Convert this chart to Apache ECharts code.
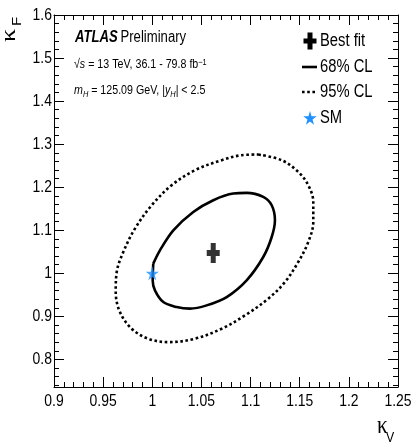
<!DOCTYPE html>
<html>
<head>
<meta charset="utf-8">
<script src="https://cdn.jsdelivr.net/npm/echarts@6/dist/echarts.min.js"></script>
<style>
  html, body { margin: 0; padding: 0; background: #fff; }
  #chart { width: 413px; height: 444px; }
</style>
</head>
<body>
<div id="chart"></div>
<script>
// Likelihood contours in the (kappa_V, kappa_F) plane
const contour68X = [1.001, 1.0004, 1.0027, 1.0112, 1.0248, 1.0384, 1.0553, 1.0757, 1.096, 1.1129,
  1.1215, 1.1248, 1.1215, 1.1129, 1.096, 1.0824, 1.0621, 1.0417, 1.0214, 1.0078, 1.001];
const contour68Y = [1.0225, 0.9837, 0.9605, 0.9333, 0.9217, 0.918, 0.9256, 0.9449, 0.9837, 1.0379,
  1.0844, 1.1233, 1.1581, 1.1775, 1.1868, 1.1853, 1.1698, 1.1426, 1.1, 1.0535, 1.0225];

const contour95X = [1.1079, 1.1316, 1.1485, 1.1587, 1.1638, 1.1638, 1.1587, 1.1485, 1.135, 1.118,
  1.0943, 1.0706, 1.0434, 1.0163, 0.9959, 0.979, 0.9671, 0.9628, 0.9638, 0.9705,
  0.9824, 0.9994, 1.0197, 1.0434, 1.0706, 1.0909, 1.1079];
const contour95Y = [1.276, 1.2628, 1.2356, 1.2047, 1.1658, 1.1193, 1.0728, 1.0263, 0.9798, 0.9411,
  0.9023, 0.8714, 0.8481, 0.8402, 0.8481, 0.8714, 0.91, 0.9565, 1.003, 1.0495,
  1.104, 1.1581, 1.2047, 1.2395, 1.2628, 1.2744, 1.276];

const bestFit = [1.062, 1.047];
const smPoint = [1.0, 1.0];

// Axis ranges and tick positions
const xRange = [0.9, 1.25];
const yRange = [0.736, 1.6];
const xMajorTicks = [0.9, 0.95, 1.0, 1.05, 1.1, 1.15, 1.2, 1.25];
const xTickLabels = ['0.9', '0.95', '1', '1.05', '1.1', '1.15', '1.2', '1.25'];
const yMajorTicks = [0.8, 0.9, 1.0, 1.1, 1.2, 1.3, 1.4, 1.5, 1.6];
const yTickLabels = ['0.8', '0.9', '1', '1.1', '1.2', '1.3', '1.4', '1.5', '1.6'];
const yMinorStep = 0.02;

const legendLabels = ['Best fit', '68% CL', '95% CL', 'SM'];

const SANS = "'Liberation Sans', Arial, sans-serif";
const SERIF = "'Liberation Serif', 'DejaVu Serif', serif";
const NARROW = 0.82;           // horizontal squeeze for the condensed Helvetica look
const SM_BLUE = '#1E90FF';
const CROSS = 'path://M4,0 H9 V7 H13 V13 H9 V20 H4 V13 H0 V7 H4 Z';
const STAR = 'path://M50,0 L61,35 L98,35 L68,57 L79,91 L50,70 L21,91 L32,57 L2,35 L39,35 Z';

const yMinorTicks = [];
for (let v = 0.74; v < 1.6; v += yMinorStep) {
  const r = Math.round(v * 100) / 100;
  if (Math.abs(r * 10 - Math.round(r * 10)) > 1e-6) yMinorTicks.push(r);
}

const zip = (xs, ys) => xs.map((x, i) => [x, ys[i]]);

const axisLineStyle = { show: true, onZero: false, lineStyle: { color: '#000', width: 1 } };

function xAxisDef(position) {
  return {
    type: 'value', position, min: xRange[0], max: xRange[1], interval: 0.05,
    axisLine: axisLineStyle,
    axisTick: { show: true, inside: true, length: 10, lineStyle: { color: '#000' } },
    minorTick: { show: true, splitNumber: 5, length: 5, lineStyle: { color: '#000' } },
    splitLine: { show: false }, minorSplitLine: { show: false },
    axisLabel: { show: false }
  };
}

function yAxisDef(position, values, tickLen, withLine) {
  return {
    type: 'value', position, min: yRange[0], max: yRange[1],
    axisLine: withLine ? axisLineStyle : { show: false },
    axisTick: { show: true, inside: true, length: tickLen, customValues: values,
                lineStyle: { color: '#000' } },
    splitLine: { show: false },
    axisLabel: { show: false }
  };
}

const chart = echarts.init(document.getElementById('chart'), null, { renderer: 'canvas' });

chart.setOption({
  animation: false,
  backgroundColor: '#fff',
  grid: { left: 54, right: 15, top: 15, bottom: 57, outerBoundsMode: 'none', containLabel: false },
  xAxis: [xAxisDef('bottom'), xAxisDef('top')],
  yAxis: [
    yAxisDef('left', yMajorTicks, 10, true),
    yAxisDef('left', yMinorTicks, 5, false),
    yAxisDef('right', yMajorTicks, 10, true),
    yAxisDef('right', yMinorTicks, 5, false)
  ],
  series: [
    {
      name: '95% CL', type: 'line', xAxisIndex: 0, yAxisIndex: 0,
      data: zip(contour95X, contour95Y), smooth: 0.35, symbol: 'none',
      lineStyle: { color: '#000', width: 2.6, type: [2.6, 2.6] }
    },
    {
      name: '68% CL', type: 'line', xAxisIndex: 0, yAxisIndex: 0,
      data: zip(contour68X, contour68Y), smooth: 0.35, symbol: 'none',
      lineStyle: { color: '#000', width: 2.6 }
    },
    {
      name: 'Best fit', type: 'scatter', data: [bestFit], symbol: CROSS,
      symbolSize: [13, 20], itemStyle: { color: '#000' }, z: 5
    },
    {
      name: 'SM', type: 'scatter', data: [smPoint], symbol: STAR,
      symbolSize: [13, 14], itemStyle: { color: SM_BLUE }, z: 6
    }
  ]
});

// Tick labels, placed through the axis scales and drawn condensed
const xAxisY = chart.convertToPixel({ yAxisIndex: 0 }, yRange[0]);
const yAxisX = chart.convertToPixel({ xAxisIndex: 0 }, xRange[0]);

function narrowText(x, y, text, fontSize, align, vAlign, extra) {
  return Object.assign({
    type: 'text', x, y, scaleX: NARROW, z: 10,
    style: { text, fontFamily: SANS, fontSize, fill: '#000', align, verticalAlign: vAlign }
  }, extra || {});
}

const tickLabelEls = [];
xMajorTicks.forEach((v, i) => {
  tickLabelEls.push(narrowText(chart.convertToPixel({ xAxisIndex: 0 }, v), xAxisY + 6,
    xTickLabels[i], 17, 'center', 'top'));
});
yMajorTicks.forEach((v, i) => {
  tickLabelEls.push(narrowText(yAxisX - 2, chart.convertToPixel({ yAxisIndex: 0 }, v),
    yTickLabels[i], 17, 'right', 'middle'));
});

const legendX = 310, legendTextX = 320;
const legendRows = [41, 67, 92, 118];

const richSans = (size, extra) => Object.assign({ fontFamily: SANS, fontSize: size, fill: '#000' }, extra || {});

// Axis titles: kappa with a lowered subscript
function kappaTitle(kx, ky, sx, sy, sub, rotated) {
  const common = rotated ? { rotation: Math.PI / 2, scaleY: NARROW } : { scaleX: NARROW };
  return [
    Object.assign({ type: 'text', x: kx, y: ky, z: 10,
      style: { text: 'κ', fontFamily: SERIF, fontSize: 26, fill: '#000', align: 'left', verticalAlign: 'middle' } }, common),
    Object.assign({ type: 'text', x: sx, y: sy, z: 10,
      style: { text: sub, fontFamily: SANS, fontSize: 15, fill: '#000', align: 'left', verticalAlign: 'middle' } }, common)
  ];
}

const decorEls = [].concat(
  kappaTitle(377, 426, 386, 438, 'V', false),
  kappaTitle(9.5, 42, 18, 26, 'F', true),
  [
  // ATLAS label block
  {
    type: 'text', x: 75, y: 38, scaleX: NARROW, z: 10,
    style: {
      text: '{b|ATLAS} {n|Preliminary}', verticalAlign: 'middle',
      rich: {
        b: richSans(16, { fontWeight: 'bold', fontStyle: 'italic' }),
        n: richSans(16)
      }
    }
  },
  {
    type: 'text', x: 74, y: 66, scaleX: NARROW, z: 10,
    style: {
      text: '{n|√}{i|s}{n| = 13 TeV, 36.1 - 79.8 fb}{p|−1}', verticalAlign: 'middle',
      rich: {
        n: richSans(13, { verticalAlign: 'top', lineHeight: 16 }),
        i: richSans(13, { fontStyle: 'italic', verticalAlign: 'top', lineHeight: 16 }),
        p: richSans(9, { verticalAlign: 'top', lineHeight: 10 })
      }
    }
  },
  {
    type: 'text', x: 74, y: 92, scaleX: NARROW, z: 10,
    style: {
      text: '{i|m}{s|H}{n| = 125.09 GeV, |}{i|y}{s|H}{n|| < 2.5}', verticalAlign: 'middle',
      rich: {
        n: richSans(13, { verticalAlign: 'top', lineHeight: 16 }),
        i: richSans(13, { fontStyle: 'italic', verticalAlign: 'top', lineHeight: 16 }),
        s: richSans(9, { fontStyle: 'italic', verticalAlign: 'top', lineHeight: 10, padding: [6, 0, 0, 0] })
      }
    }
  },
  // legend symbols
  {
    type: 'polygon', z: 10, x: legendX - 6.5, y: legendRows[0] - 8.5,
    shape: { points: [[4, 0], [9, 0], [9, 6], [13, 6], [13, 11], [9, 11], [9, 17], [4, 17],
                      [4, 11], [0, 11], [0, 6], [4, 6]] },
    style: { fill: '#000' }
  },
  {
    type: 'line', z: 10,
    shape: { x1: legendX - 8, y1: legendRows[1], x2: legendX + 7, y2: legendRows[1] },
    style: { stroke: '#000', lineWidth: 2.6 }
  },
  {
    type: 'line', z: 10,
    shape: { x1: legendX - 8, y1: legendRows[2], x2: legendX + 7, y2: legendRows[2] },
    style: { stroke: '#000', lineWidth: 2.6, lineDash: [2.6, 2.6] }
  },
  {
    type: 'polygon', z: 10, x: legendX - 7, y: legendRows[3] - 7, scaleX: 0.14, scaleY: 0.15,
    shape: { points: [[50, 0], [61, 35], [98, 35], [68, 57], [79, 91], [50, 70], [21, 91],
                      [32, 57], [2, 35], [39, 35]] },
    style: { fill: SM_BLUE }
  }
]);

const legendTextEls = legendLabels.map((label, i) =>
  narrowText(legendTextX, legendRows[i], label, 18, 'left', 'middle'));

chart.setOption({ graphic: tickLabelEls.concat(decorEls, legendTextEls) });
</script>
</body>
</html>
